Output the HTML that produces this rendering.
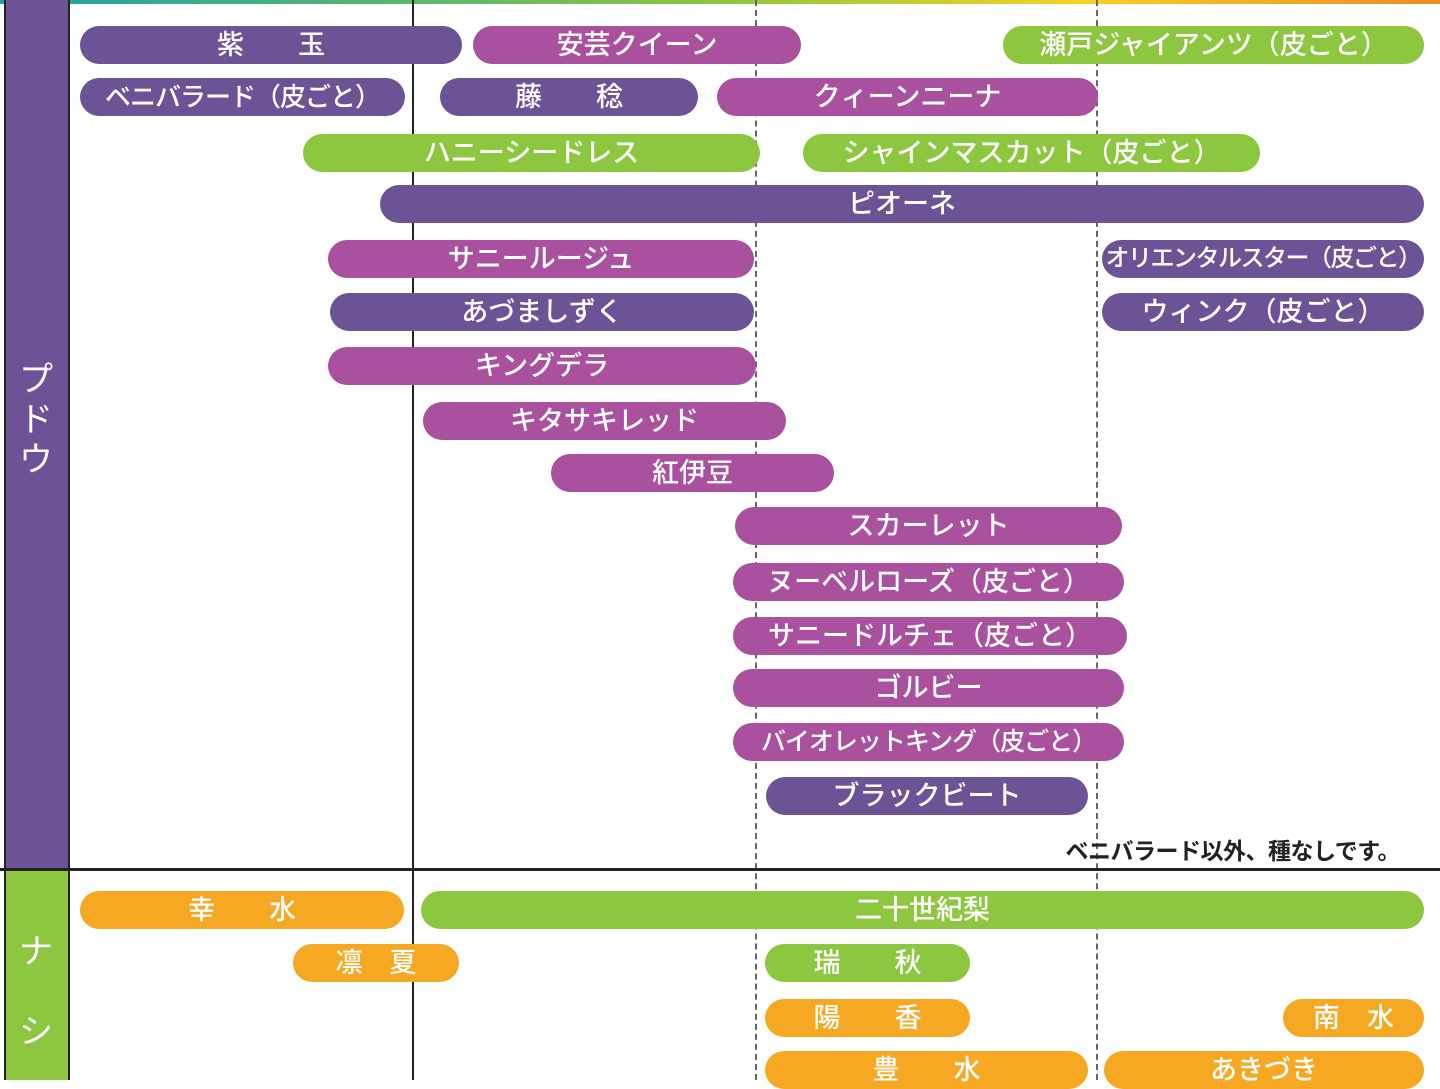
<!DOCTYPE html>
<html><head><meta charset="utf-8"><style>
body{margin:0;width:1440px;height:1080px;overflow:hidden;background:#fff;position:relative;font-family:"Liberation Sans","Noto Sans CJK JP",sans-serif}
.b{position:absolute;height:38px;border-radius:19px;color:#fff;font-size:27px;font-weight:500;line-height:38px;text-align:center;white-space:nowrap;letter-spacing:0}
.d{background:#6c5396}.m{background:#a9509f}.g{background:#8dc63f}.o{background:#f7a823}
.v{position:absolute;width:2px;background:#222}
.dash{position:absolute;width:0;border-left:2px dashed #666}
.side{position:absolute;color:#fff;font-size:34px;text-align:center;width:62px}
</style></head><body>
<div style="position:absolute;left:0;top:0;width:1440px;height:4px;background:linear-gradient(90deg,#1aa3a8,#8dc63f 50%,#f7d323 75%,#f08a24)"></div>
<div style="position:absolute;left:4px;top:0;width:62px;height:868px;background:#6c5396;border-left:2px solid #222;border-right:2px solid #222"></div>
<div style="position:absolute;left:4px;top:871px;width:62px;height:209px;background:#8dc63f;border-left:2px solid #222;border-right:2px solid #222"></div>
<div class="side" style="left:5px;top:360px;line-height:40px">プ<br>ド<br>ウ</div>
<div class="side" style="left:5px;top:912px;line-height:80px">ナ<br>シ</div>
<div class="v" style="left:412px;top:0;height:1080px"></div>
<div class="dash" style="left:755px;top:0;height:1080px"></div>
<div class="dash" style="left:1096px;top:0;height:1080px"></div>
<div style="position:absolute;left:0;top:868px;width:1440px;height:3px;background:#222"></div>

<div class="b d" style="left:80px;width:382px;top:26px">紫　　玉</div>
<div class="b m" style="left:473px;width:328px;top:26px">安芸クイーン</div>
<div class="b g" style="left:1003px;width:421px;top:26px">瀬戸ジャイアンツ（皮ごと）</div>
<div class="b d" style="left:80px;width:325px;top:78px;font-size:26px;letter-spacing:-1px">ベニバラード（皮ごと）</div>
<div class="b d" style="left:440px;width:258px;top:78px">藤　　稔</div>
<div class="b m" style="left:717px;width:381px;top:78px">クィーンニーナ</div>
<div class="b g" style="left:303px;width:457px;top:134px">ハニーシードレス</div>
<div class="b g" style="left:803px;width:457px;top:134px">シャインマスカット（皮ごと）</div>
<div class="b d" style="left:380px;width:1044px;top:185px">ピオーネ</div>
<div class="b m" style="left:328px;width:426px;top:240px">サニールージュ</div>
<div class="b d" style="left:1102px;width:322px;top:240px;font-size:24px;letter-spacing:-1.5px">オリエンタルスター（皮ごと）</div>
<div class="b d" style="left:330px;width:424px;top:293px">あづましずく</div>
<div class="b d" style="left:1102px;width:322px;top:293px">ウィンク（皮ごと）</div>
<div class="b m" style="left:328px;width:428px;top:347px">キングデラ</div>
<div class="b m" style="left:423px;width:363px;top:402px">キタサキレッド</div>
<div class="b m" style="left:551px;width:283px;top:454px">紅伊豆</div>
<div class="b m" style="left:735px;width:387px;top:507px">スカーレット</div>
<div class="b m" style="left:733px;width:391px;top:563px">ヌーベルローズ（皮ごと）</div>
<div class="b m" style="left:733px;width:394px;top:617px">サニードルチェ（皮ごと）</div>
<div class="b m" style="left:733px;width:391px;top:669px">ゴルビー</div>
<div class="b m" style="left:733px;width:391px;top:723px;font-size:25px;letter-spacing:-1px">バイオレットキング（皮ごと）</div>
<div class="b d" style="left:766px;width:322px;top:777px">ブラックビート</div>
<div style="position:absolute;left:1000px;width:400px;top:832px;text-align:right;font-size:23px;font-weight:bold;color:#222;letter-spacing:-0.5px">ベニバラード以外、種なしです。</div>

<div class="b o" style="left:80px;width:324px;top:891px">幸　　水</div>
<div class="b g" style="left:421px;width:1003px;top:891px">二十世紀梨</div>
<div class="b o" style="left:293px;width:166px;top:944px">凛　夏</div>
<div class="b g" style="left:765px;width:205px;top:944px">瑞　　秋</div>
<div class="b o" style="left:765px;width:205px;top:999px">陽　　香</div>
<div class="b o" style="left:1283px;width:141px;top:999px">南　水</div>
<div class="b o" style="left:765px;width:323px;top:1051px">豊　　水</div>
<div class="b o" style="left:1104px;width:320px;top:1051px">あきづき</div>
</body></html>
